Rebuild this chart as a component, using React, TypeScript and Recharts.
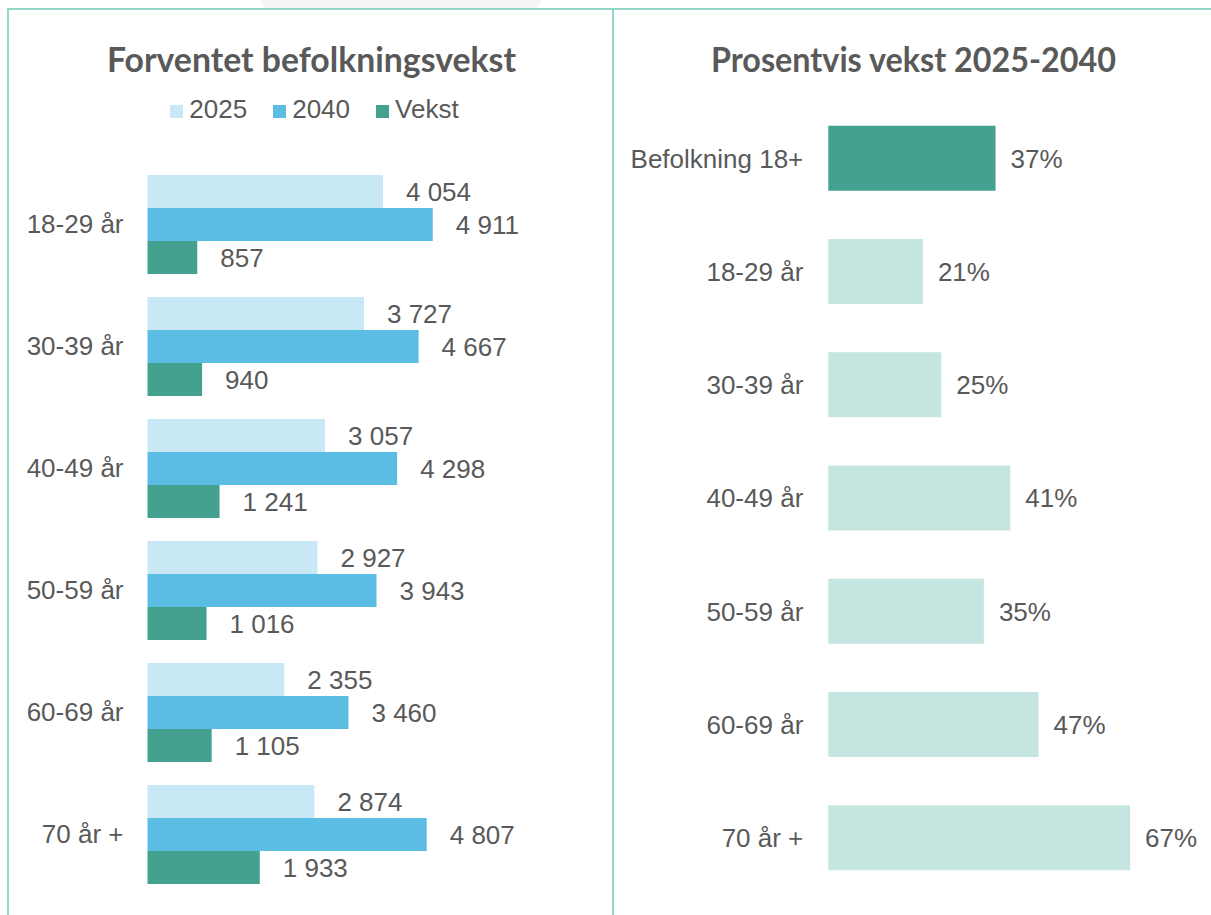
import { BarChart, Bar, XAxis, YAxis, Legend, LabelList, Cell } from 'recharts';

// Left panel: population per age group
const AGE_GROUPS = ['18-29 år', '30-39 år', '40-49 år', '50-59 år', '60-69 år', '70 år +'];
const POP_2025 = [4054, 3727, 3057, 2927, 2355, 2874];
const POP_2040 = [4911, 4667, 4298, 3943, 3460, 4807];
const GROWTH = [857, 940, 1241, 1016, 1105, 1933];

// Right panel: percentage growth
const PCT_CATEGORIES = ['Befolkning 18+', '18-29 år', '30-39 år', '40-49 år', '50-59 år', '60-69 år', '70 år +'];
const PCT_VALUES = [37.3, 21.1, 25.2, 40.6, 34.7, 46.9, 67.3];

const C_2025 = '#C9E8F5';
const C_2040 = '#5BBDE3';
const C_VEKST = '#45A18F';
const C_PCT = '#C5E6E0';
const TEXT = '#595959';
const BORDER = '#93D7C8';
const FONT = '"Liberation Sans", Arial, sans-serif';

const leftData = AGE_GROUPS.map((name, i) => ({
  name,
  y2025: POP_2025[i],
  y2040: POP_2040[i],
  vekst: GROWTH[i],
}));

const rightData = PCT_CATEGORIES.map((name, i) => ({ name, pct: PCT_VALUES[i] }));

const fmtThousands = (v: any) => String(v).replace(/\B(?=(\d{3})+(?!\d))/g, ' ');
const fmtPct = (v: any) => `${Math.round(Number(v))}%`;

const legendItems = [
  { label: '2025', color: C_2025 },
  { label: '2040', color: C_2040 },
  { label: 'Vekst', color: C_VEKST },
];

function renderLegend() {
  return (
    <div style={{ display: 'flex', justifyContent: 'center', paddingLeft: 17, fontFamily: FONT, fontSize: 26, color: TEXT, lineHeight: '30px' }}>
      {legendItems.map((it, i) => (
        <div key={it.label} style={{ display: 'flex', alignItems: 'center', marginLeft: i === 0 ? 0 : 26 }}>
          <span style={{ display: 'inline-block', width: 13, height: 13, background: it.color, marginRight: 6, marginTop: 5 }} />
          <span>{it.label}</span>
        </div>
      ))}
    </div>
  );
}

const tickStyle = { fill: TEXT, fontSize: 26, fontFamily: FONT };
const labelStyle = { fill: TEXT, fontSize: 26, fontFamily: FONT };

export default function App() {
  return (
    <div style={{ position: 'absolute', left: 0, top: 0, width: 1211, height: 915, background: '#fff', overflow: 'hidden' }}>
      {/* faint tab behind the top border */}
      <div style={{ position: 'absolute', left: 261, top: 0, width: 280, height: 9, background: '#F4F4F4', borderRadius: '0 0 30px 30px' }} />

      {/* panel borders */}
      <div style={{ position: 'absolute', left: 7, top: 8, width: 1204, height: 2, background: BORDER }} />
      <div style={{ position: 'absolute', left: 7, top: 8, width: 2, height: 907, background: BORDER }} />
      <div style={{ position: 'absolute', left: 612, top: 8, width: 2, height: 907, background: BORDER }} />

      {/* titles */}
      <svg style={{ position: 'absolute', left: 0, top: 0 }} width={1211} height={100}>
        <text x={311.5} y={72} textAnchor="middle" fill={TEXT} fontFamily="Lato, sans-serif" fontWeight={700} fontSize={34} textLength={409} lengthAdjust="spacingAndGlyphs">
          Forventet befolkningsvekst
        </text>
        <text x={913.5} y={72} textAnchor="middle" fill={TEXT} fontFamily="Lato, sans-serif" fontWeight={700} fontSize={34} textLength={405} lengthAdjust="spacingAndGlyphs">
          Prosentvis vekst 2025-2040
        </text>
      </svg>

      {/* left chart */}
      <div style={{ position: 'absolute', left: 0, top: 0 }}>
        <BarChart
          width={612}
          height={915}
          data={leftData}
          layout="vertical"
          margin={{ top: 163, right: 116, bottom: 20, left: 0 }}
          barCategoryGap={12}
          barGap={0}
        >
          <XAxis type="number" domain={[0, 6000]} hide />
          <YAxis
            type="category"
            dataKey="name"
            width={147.5}
            axisLine={false}
            tickLine={false}
            tickSize={0}
            tickMargin={24}
            interval={0}
            tick={tickStyle}
          />
          <Legend
            layout="horizontal"
            verticalAlign="middle"
            align="center"
            content={renderLegend}
            wrapperStyle={{ top: 94, left: 0, width: 612, height: 30 }}
          />
          <Bar dataKey="y2025" name="2025" fill={C_2025} isAnimationActive={false}>
            <LabelList dataKey="y2025" position="right" offset={23} formatter={fmtThousands} style={labelStyle} />
          </Bar>
          <Bar dataKey="y2040" name="2040" fill={C_2040} isAnimationActive={false}>
            <LabelList dataKey="y2040" position="right" offset={23} formatter={fmtThousands} style={labelStyle} />
          </Bar>
          <Bar dataKey="vekst" name="Vekst" fill={C_VEKST} isAnimationActive={false}>
            <LabelList dataKey="vekst" position="right" offset={23} formatter={fmtThousands} style={labelStyle} />
          </Bar>
        </BarChart>
      </div>

      {/* right chart */}
      <div style={{ position: 'absolute', left: 612, top: 0 }}>
        <BarChart
          width={599}
          height={915}
          data={rightData}
          layout="vertical"
          margin={{ top: 101.8, right: 24, bottom: 20.5, left: 0 }}
          barCategoryGap={24}
        >
          <XAxis type="number" domain={[0, 80]} hide />
          <YAxis
            type="category"
            dataKey="name"
            width={216.3}
            axisLine={false}
            tickLine={false}
            tickSize={0}
            tickMargin={25}
            interval={0}
            tick={tickStyle}
          />
          <Bar dataKey="pct" isAnimationActive={false}>
            {rightData.map((d, i) => (
              <Cell key={i} fill={i === 0 ? C_VEKST : C_PCT} />
            ))}
            <LabelList dataKey="pct" position="right" offset={15} formatter={fmtPct} style={labelStyle} />
          </Bar>
        </BarChart>
      </div>
    </div>
  );
}
